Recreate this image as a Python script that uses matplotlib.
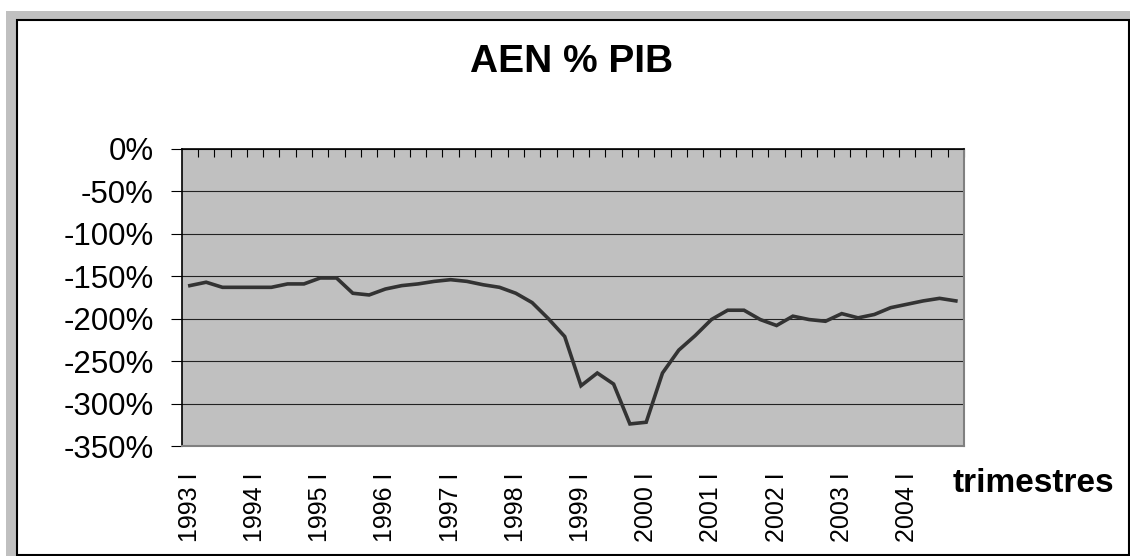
import matplotlib.pyplot as plt
from matplotlib.patches import Rectangle
from matplotlib.ticker import FuncFormatter, FixedLocator

plt.rcParams['font.family'] = ['Liberation Sans', 'DejaVu Sans']

# AEN en % du PIB, trimestriel 1993 I - 2004 IV
valeurs = [
    -161, -157, -163, -163, -163, -163, -159, -159,   # 1993-1994
    -152, -152, -170, -172, -165, -161, -159, -156,   # 1995-1996
    -154, -156, -160, -163, -170, -181, -200, -221,   # 1997-1998
    -279, -264, -277, -324, -322, -264, -237, -220,   # 1999-2000
    -201, -190, -190, -201, -208, -197, -201, -203,   # 2001-2002
    -194, -199, -195, -187, -183, -179, -176, -179,   # 2003-2004
]
annees = [str(a) + " I" for a in range(1993, 2005)]
y_ticks = [0, -50, -100, -150, -200, -250, -300, -350]

W, H = 1130, 556
fig = plt.figure(figsize=(W / 100, H / 100), dpi=100)

# cadre gris + bordure noire façon Excel
fig.patches.append(Rectangle((6 / W, 0), 1 - 6 / W, 1 - 11 / H,
                             transform=fig.transFigure, facecolor='#c0c0c0',
                             edgecolor='none', zorder=-2))
fig.patches.append(Rectangle((17 / W, 1 - 554.5 / H), (1128.5 - 17) / W, (554.5 - 20) / H,
                             transform=fig.transFigure, facecolor='white',
                             edgecolor='black', linewidth=1.5, zorder=-1))

ax = fig.add_axes([181.7 / W, 1 - 446 / H, (964 - 181.7) / W, (446 - 149) / H])
ax.set_facecolor('#c0c0c0')

x = list(range(len(valeurs)))
ax.plot(x, valeurs, color='#333333', linewidth=2.6, solid_joinstyle='miter', zorder=3)

ax.set_xlim(-0.5, len(valeurs) - 0.5)
ax.set_ylim(-350, 0)

# axe Y
ax.set_yticks(y_ticks)
ax.yaxis.set_major_formatter(FuncFormatter(lambda v, p: f"{v:.0f}%"))
ax.tick_params(axis='y', direction='out', length=8, width=0.8, color='black',
               labelsize=22.5, pad=12)
ax.grid(axis='y', color='#222222', linewidth=0.8, zorder=1)

# axe X : étiquettes en bas, graduations en haut entre les catégories
ax.set_xticks(list(range(0, len(valeurs), 4)))
ax.set_xticklabels(annees, rotation=90, va='top', ha='center')
ax.tick_params(axis='x', which='major', bottom=False, top=False, length=0,
               labelsize=18, pad=19)
ax.xaxis.set_minor_locator(FixedLocator([i + 0.5 for i in range(len(valeurs))]))
ax.tick_params(axis='x', which='minor', bottom=False, top=True, direction='in',
               length=5.5, width=0.8, color='black')

for s in ['left', 'top']:
    ax.spines[s].set_color('black')
    ax.spines[s].set_linewidth(1.2)
for s in ['right', 'bottom']:
    ax.spines[s].set_color('#808080')
    ax.spines[s].set_linewidth(1.5)

fig.text(572 / W, 1 - 62 / H, "AEN % PIB", ha='center', va='center',
         fontsize=28, fontweight='bold')
fig.text(953 / W, 1 - 483 / H, "trimestres", ha='left', va='center',
         fontsize=24, fontweight='bold')

fig.savefig('out.png', dpi=100)
